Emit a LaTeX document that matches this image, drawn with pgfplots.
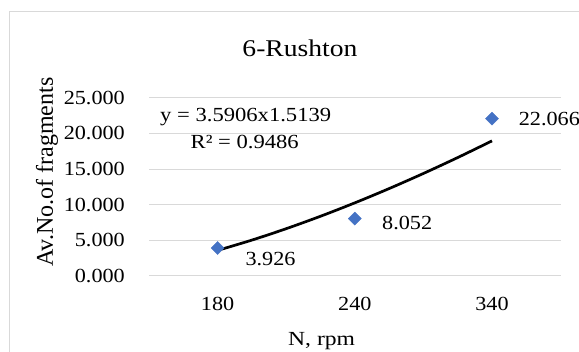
\documentclass[border=0pt]{standalone}
\usepackage{pgfplots}
\pgfplotsset{compat=1.18}
\usepackage{fontspec}
\setmainfont{Liberation Serif}
\definecolor{mkblue}{HTML}{4472C4}
\definecolor{gridgray}{HTML}{D9D9D9}
\newcommand{\fs}{\fontsize{20}{24}\selectfont}
\begin{document}
\begin{tikzpicture}[x=1pt,y=1pt]
\useasboundingbox (0,0) rectangle (579,-352);
\fill[white] (0,0) rectangle (579,-352);
\draw[gridgray, line width=1pt] (9,-400) -- (9,-12) -- (620,-12);
\begin{axis}[
  at={(149pt,-276pt)}, anchor=south west,
  scale only axis, width=411.6pt, height=178.3pt,
  xmin=0.5, xmax=3.5, ymin=0, ymax=25,
  clip=false,
  xtick={1,2,3}, xticklabels={180,240,340},
  ytick={0,5,10,15,20,25},
  ymajorgrids, grid style={gridgray, line width=1pt},
  axis line style={draw=none},
  major tick length=0pt,
  every tick label/.append style={font=\fs, xscale=1.11},
  yticklabel style={anchor=east, inner sep=0pt, xshift=-21.6pt,
    /pgf/number format/fixed, /pgf/number format/fixed zerofill,
    /pgf/number format/precision=3, /pgf/number format/assume math mode=true},
  xticklabel style={anchor=base, inner sep=0pt, yshift=-34.7pt},
]
\addplot[only marks, mark=square*, mark size=4.6pt, mark options={rotate=45, fill=mkblue, draw=mkblue}]
  coordinates {(1,3.926) (2,8.052) (3,22.066)};
\addplot[black, line width=2.7pt, smooth, no marks]
  coordinates {(1,3.591) (1.25,5.034) (1.5,6.634) (1.75,8.377) (2,10.254) (2.25,12.256) (2.5,14.376) (2.75,16.607) (3,18.945)};
\node[anchor=base west, font=\fs, xscale=1.11, inner sep=0pt, xshift=25pt, yshift=-18pt] at (axis cs:1,3.926) {3.926};
\node[anchor=base west, font=\fs, xscale=1.11, inner sep=0pt, xshift=24.5pt, yshift=-10.5pt] at (axis cs:2,8.052) {8.052};
\node[anchor=base west, font=\fs, xscale=1.11, inner sep=0pt, xshift=24pt, yshift=-7pt] at (axis cs:3,22.066) {22.066};
\end{axis}
\node[anchor=base, font=\fontsize{24}{28}\selectfont, xscale=1.15, inner sep=0pt] at (300,-57) {6-Rushton};
\node[rotate=90, font=\fontsize{24}{28}\selectfont, inner sep=0pt] at (47,-172) {Av.No.of fragments};
\node[anchor=base, font=\fs, xscale=1.18, inner sep=0pt] at (321.6,-346) {N, rpm};
\node[anchor=base west, font=\fs, xscale=1.13, inner sep=0pt] at (160,-122) {y = 3.5906x1.5139};
\node[anchor=base west, font=\fs, xscale=1.13, inner sep=0pt] at (190.5,-149) {R² = 0.9486};
\end{tikzpicture}
\end{document}
